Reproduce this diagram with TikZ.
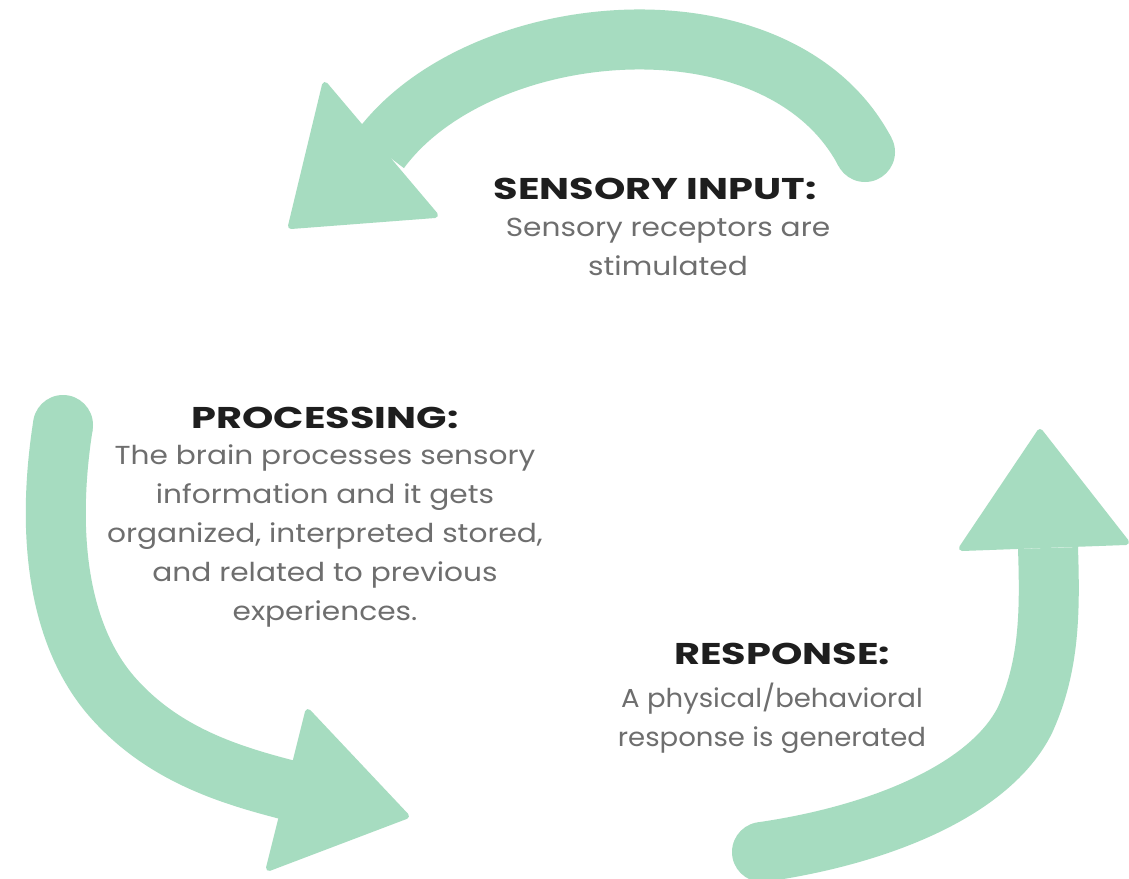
\documentclass[tikz,border=0pt]{standalone}
\usepackage{fontspec}
\usepackage{graphicx}
\setmainfont{Poppins}
\newfontfamily\headfont{Poppins}
\newfontfamily\bodyfont{Poppins}
\definecolor{mint}{RGB}{166,220,192}
\definecolor{headc}{RGB}{30,30,30}
\definecolor{bodyc}{RGB}{110,110,110}
\newcommand{\hwide}[1]{\scalebox{1.33}[1]{#1}}
\newcommand{\bwide}[1]{\scalebox{1.14}[1]{#1}}
\newcommand{\rwide}[1]{\scalebox{1.06}[1]{#1}}
\begin{document}
\begin{tikzpicture}[x=1pt,y=-1pt,
  band/.style={draw=mint,line width=60pt},
  headtri/.style={fill=mint,draw=mint,line width=6pt,line join=round},
  title/.style={font=\headfont\bfseries\fontsize{30}{34}\selectfont,text=headc,inner sep=0pt},
  body/.style={font=\bodyfont\fontsize{26}{39}\selectfont,text=bodyc,align=center,inner sep=0pt}]
\useasboundingbox (0,0) rectangle (1129,878);
\fill[white] (0,0) rectangle (1129,878);

% top arrow
\coordinate (t0) at (865,152);
\coordinate (t1) at (380,150);
\draw[band] (t0) .. controls (780,-10) and (480,15) .. (t1);
\fill[mint] (t0) circle (30pt);
\filldraw[headtri] (435,215) -- (325,85) -- (291,226) -- cycle;

% left arrow
\coordinate (l0) at (63,425);
\coordinate (l1) at (115,700);
\coordinate (l2) at (288,790);
\draw[band] (l0) .. controls (45,540) and (60,640) .. (l1) .. controls (165,755) and (230,775) .. (l2);
\fill[mint] (l0) circle (30pt);
\filldraw[headtri] (308,712) -- (269,868) -- (406,816) -- cycle;

% right arrow
\coordinate (r0) at (762,852);
\coordinate (r1) at (1025,720);
\coordinate (r2) at (1048,548);
\draw[band] (r0) .. controls (880,835) and (990,790) .. (r1) .. controls (1050,665) and (1050,610) .. (r2);
\fill[mint] (r0) circle (30pt);
\filldraw[headtri] (962,548) -- (1126,542) -- (1040,432) -- cycle;

% texts
\node[title] (sih) at (655,189) {\hwide{SENSORY INPUT:}};
\node[body,anchor=north] (sib) at (668,218) {\bwide{Sensory receptors are}\\\bwide{stimulated}};
\node[title] (prh) at (325,418) {\hwide{PROCESSING:}};
\node[body,anchor=north] (prb) at (325,445) {\bwide{The brain processes sensory}\\\bwide{information and it gets}\\\bwide{organized, interpreted stored,}\\\bwide{and related to previous}\\\bwide{experiences.}};
\node[title] (reh) at (782,654) {\hwide{RESPONSE:}};
\node[body,anchor=north] (reb) at (772,683) {\rwide{A physical/behavioral}\\\rwide{response is generated}};
\end{tikzpicture}
\end{document}
